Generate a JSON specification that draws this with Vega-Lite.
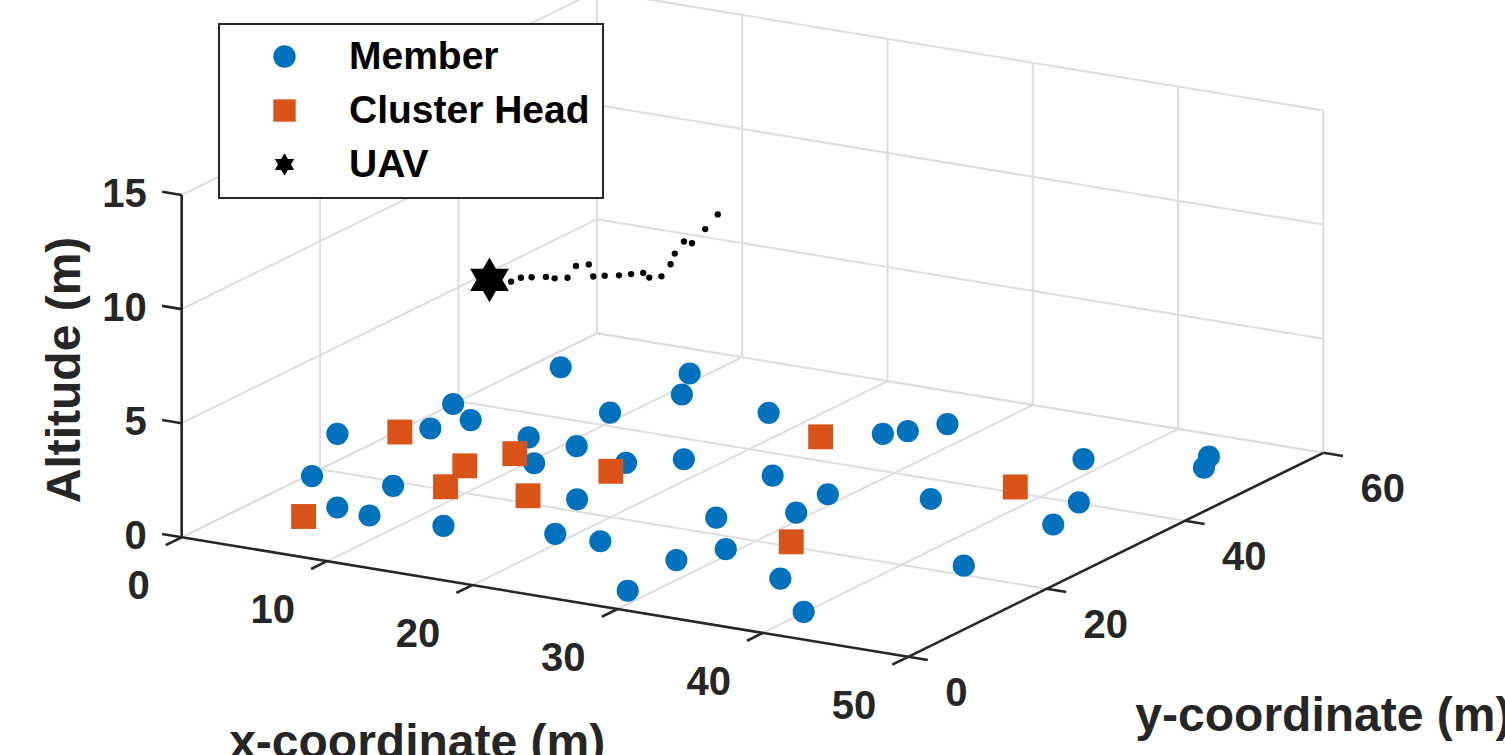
{
  "$schema": "https://vega.github.io/schema/vega-lite/v6.json",
  "width": 1505,
  "height": 755,
  "autosize": "none",
  "padding": 0,
  "background": "white",
  "config": {
    "view": {"stroke": null},
    "legend": {
      "padding": 13,
      "fillColor": "white",
      "strokeColor": "#262626",
      "strokeWidth": 2,
      "labelFont": "Liberation Sans",
      "labelFontSize": 39,
      "labelFontWeight": "bold",
      "labelColor": "#000000",
      "labelLimit": 600,
      "symbolSize": 500,
      "symbolOffset": 33,
      "labelOffset": 45,
      "rowPadding": 14,
      "symbolStrokeWidth": 0
    }
  },
  "datasets": {
    "grid": [
      {"x1": 0, "y1": 0, "z1": 0, "x2": 0, "y2": 60, "z2": 0},
      {"x1": 10, "y1": 0, "z1": 0, "x2": 10, "y2": 60, "z2": 0},
      {"x1": 20, "y1": 0, "z1": 0, "x2": 20, "y2": 60, "z2": 0},
      {"x1": 30, "y1": 0, "z1": 0, "x2": 30, "y2": 60, "z2": 0},
      {"x1": 40, "y1": 0, "z1": 0, "x2": 40, "y2": 60, "z2": 0},
      {"x1": 50, "y1": 0, "z1": 0, "x2": 50, "y2": 60, "z2": 0},
      {"x1": 0, "y1": 0, "z1": 0, "x2": 50, "y2": 0, "z2": 0},
      {"x1": 0, "y1": 20, "z1": 0, "x2": 50, "y2": 20, "z2": 0},
      {"x1": 0, "y1": 40, "z1": 0, "x2": 50, "y2": 40, "z2": 0},
      {"x1": 0, "y1": 60, "z1": 0, "x2": 50, "y2": 60, "z2": 0},
      {"x1": 0, "y1": 0, "z1": 0, "x2": 0, "y2": 0, "z2": 15},
      {"x1": 0, "y1": 20, "z1": 0, "x2": 0, "y2": 20, "z2": 15},
      {"x1": 0, "y1": 40, "z1": 0, "x2": 0, "y2": 40, "z2": 15},
      {"x1": 0, "y1": 60, "z1": 0, "x2": 0, "y2": 60, "z2": 15},
      {"x1": 0, "y1": 0, "z1": 0, "x2": 0, "y2": 60, "z2": 0},
      {"x1": 0, "y1": 0, "z1": 5, "x2": 0, "y2": 60, "z2": 5},
      {"x1": 0, "y1": 0, "z1": 10, "x2": 0, "y2": 60, "z2": 10},
      {"x1": 0, "y1": 0, "z1": 15, "x2": 0, "y2": 60, "z2": 15},
      {"x1": 0, "y1": 60, "z1": 0, "x2": 0, "y2": 60, "z2": 15},
      {"x1": 10, "y1": 60, "z1": 0, "x2": 10, "y2": 60, "z2": 15},
      {"x1": 20, "y1": 60, "z1": 0, "x2": 20, "y2": 60, "z2": 15},
      {"x1": 30, "y1": 60, "z1": 0, "x2": 30, "y2": 60, "z2": 15},
      {"x1": 40, "y1": 60, "z1": 0, "x2": 40, "y2": 60, "z2": 15},
      {"x1": 50, "y1": 60, "z1": 0, "x2": 50, "y2": 60, "z2": 15},
      {"x1": 0, "y1": 60, "z1": 0, "x2": 50, "y2": 60, "z2": 0},
      {"x1": 0, "y1": 60, "z1": 5, "x2": 50, "y2": 60, "z2": 5},
      {"x1": 0, "y1": 60, "z1": 10, "x2": 50, "y2": 60, "z2": 10},
      {"x1": 0, "y1": 60, "z1": 15, "x2": 50, "y2": 60, "z2": 15}
    ],
    "axes": [
      {"x1": 0, "y1": 0, "z1": 0, "x2": 50, "y2": 0, "z2": 0},
      {"x1": 50, "y1": 0, "z1": 0, "x2": 50, "y2": 60, "z2": 0},
      {"x1": 0, "y1": 0, "z1": 0, "x2": 0, "y2": 0, "z2": 15},
      {"x1": 0, "y1": 0, "z1": 0, "x2": 0, "y2": -2.3, "z2": 0},
      {"x1": 10, "y1": 0, "z1": 0, "x2": 10, "y2": -2.3, "z2": 0},
      {"x1": 20, "y1": 0, "z1": 0, "x2": 20, "y2": -2.3, "z2": 0},
      {"x1": 30, "y1": 0, "z1": 0, "x2": 30, "y2": -2.3, "z2": 0},
      {"x1": 40, "y1": 0, "z1": 0, "x2": 40, "y2": -2.3, "z2": 0},
      {"x1": 50, "y1": 0, "z1": 0, "x2": 50, "y2": -2.3, "z2": 0},
      {"x1": 50, "y1": 0, "z1": 0, "x2": 51.35, "y2": 0, "z2": 0},
      {"x1": 50, "y1": 20, "z1": 0, "x2": 51.35, "y2": 20, "z2": 0},
      {"x1": 50, "y1": 40, "z1": 0, "x2": 51.35, "y2": 40, "z2": 0},
      {"x1": 50, "y1": 60, "z1": 0, "x2": 51.35, "y2": 60, "z2": 0},
      {"x1": 0, "y1": 0, "z1": 0, "x2": -1.35, "y2": 0, "z2": 0},
      {"x1": 0, "y1": 0, "z1": 5, "x2": -1.35, "y2": 0, "z2": 5},
      {"x1": 0, "y1": 0, "z1": 10, "x2": -1.35, "y2": 0, "z2": 10},
      {"x1": 0, "y1": 0, "z1": 15, "x2": -1.35, "y2": 0, "z2": 15}
    ],
    "xticks": [
      {"x": 0, "y": 0, "z": 0, "label": "0"},
      {"x": 10, "y": 0, "z": 0, "label": "10"},
      {"x": 20, "y": 0, "z": 0, "label": "20"},
      {"x": 30, "y": 0, "z": 0, "label": "30"},
      {"x": 40, "y": 0, "z": 0, "label": "40"},
      {"x": 50, "y": 0, "z": 0, "label": "50"}
    ],
    "yticks": [
      {"x": 50, "y": 0, "z": 0, "label": "0"},
      {"x": 50, "y": 20, "z": 0, "label": "20"},
      {"x": 50, "y": 40, "z": 0, "label": "40"},
      {"x": 50, "y": 60, "z": 0, "label": "60"}
    ],
    "zticks": [
      {"x": 0, "y": 0, "z": 0, "label": "0"},
      {"x": 0, "y": 0, "z": 5, "label": "5"},
      {"x": 0, "y": 0, "z": 10, "label": "10"},
      {"x": 0, "y": 0, "z": 15, "label": "15"}
    ],
    "titles": [
      {"x": 23.35, "y": -15, "z": -5, "label": "x-coordinate (m)"},
      {"x": 60, "y": 39, "z": -8, "label": "y-coordinate (m)"}
    ],
    "ztitle": [
      {"x": -7, "y": 0, "z": 6.6, "label": "Altitude (m)"}
    ],
    "path": [
      {"t": 1, "x": 14.1, "y": 18.0, "z": 10},
      {"t": 2, "x": 14.2, "y": 19.2, "z": 10},
      {"t": 3, "x": 14.7, "y": 19.7, "z": 10},
      {"t": 4, "x": 15.4, "y": 20.3, "z": 10},
      {"t": 5, "x": 16.0, "y": 20.3, "z": 10},
      {"t": 6, "x": 16.6, "y": 20.9, "z": 10},
      {"t": 7, "x": 15.8, "y": 23.8, "z": 10},
      {"t": 8, "x": 16.3, "y": 24.6, "z": 10},
      {"t": 9, "x": 17.8, "y": 22.1, "z": 10},
      {"t": 10, "x": 18.3, "y": 22.7, "z": 10},
      {"t": 11, "x": 19.0, "y": 23.3, "z": 10},
      {"t": 12, "x": 19.5, "y": 24.0, "z": 10},
      {"t": 13, "x": 20.0, "y": 24.7, "z": 10},
      {"t": 14, "x": 20.8, "y": 23.9, "z": 10},
      {"t": 15, "x": 21.3, "y": 24.6, "z": 10},
      {"t": 16, "x": 20.5, "y": 27.6, "z": 10},
      {"t": 17, "x": 19.6, "y": 30.1, "z": 10},
      {"t": 18, "x": 18.8, "y": 33.1, "z": 10},
      {"t": 19, "x": 19.4, "y": 33.0, "z": 10},
      {"t": 20, "x": 18.6, "y": 36.6, "z": 10},
      {"t": 21, "x": 17.7, "y": 40.3, "z": 10}
    ],
    "nodes": [
      {"type": "Member", "x": 1.7, "y": 51.2, "z": 0},
      {"type": "Member", "x": 1.2, "y": 36.7, "z": 0.5},
      {"type": "Member", "x": 2.6, "y": 36.3, "z": 0},
      {"type": "Member", "x": 1.0, "y": 20.4, "z": 1.6},
      {"type": "Member", "x": 0.3, "y": 18.2, "z": 0},
      {"type": "Member", "x": 1.4, "y": 33.0, "z": 0},
      {"type": "Member", "x": 4.9, "y": 12.2, "z": 0},
      {"type": "Member", "x": 7.4, "y": 11.6, "z": 0},
      {"type": "Member", "x": 5.5, "y": 19.0, "z": 0},
      {"type": "Member", "x": 12.3, "y": 12.0, "z": 0},
      {"type": "Member", "x": 18.9, "y": 14.3, "z": 0},
      {"type": "Member", "x": 16.4, "y": 22.7, "z": 0},
      {"type": "Member", "x": 7.4, "y": 34.6, "z": 0},
      {"type": "Member", "x": 10.4, "y": 29.1, "z": 0},
      {"type": "Member", "x": 10.8, "y": 34.4, "z": 0},
      {"type": "Member", "x": 9.0, "y": 43.0, "z": 0},
      {"type": "Member", "x": 9.0, "y": 54.5, "z": 0},
      {"type": "Member", "x": 10.8, "y": 49.6, "z": 0},
      {"type": "Member", "x": 15.1, "y": 32.5, "z": 0},
      {"type": "Member", "x": 17.7, "y": 35.4, "z": 0},
      {"type": "Member", "x": 17.2, "y": 48.7, "z": 0},
      {"type": "Member", "x": 24.0, "y": 35.0, "z": 0},
      {"type": "Member", "x": 28.8, "y": 32.9, "z": 0},
      {"type": "Member", "x": 29.1, "y": 27.7, "z": 0},
      {"type": "Member", "x": 25.5, "y": 23.7, "z": 0},
      {"type": "Member", "x": 22.0, "y": 14.3, "z": 0},
      {"type": "Member", "x": 29.3, "y": 17.1, "z": 0},
      {"type": "Member", "x": 27.9, "y": 12.9, "z": 0},
      {"type": "Member", "x": 35.2, "y": 12.6, "z": 0},
      {"type": "Member", "x": 28.6, "y": 4.4, "z": 0},
      {"type": "Member", "x": 39.9, "y": 6.1, "z": 0},
      {"type": "Member", "x": 25.3, "y": 48.2, "z": 0},
      {"type": "Member", "x": 26.3, "y": 49.7, "z": 0},
      {"type": "Member", "x": 27.6, "y": 52.7, "z": 0},
      {"type": "Member", "x": 34.6, "y": 35.6, "z": 0},
      {"type": "Member", "x": 43.3, "y": 22.1, "z": 0},
      {"type": "Member", "x": 43.6, "y": 34.4, "z": 0},
      {"type": "Member", "x": 42.6, "y": 40.2, "z": 0},
      {"type": "Member", "x": 38.3, "y": 49.9, "z": 0},
      {"type": "Member", "x": 44.5, "y": 55.0, "z": 0},
      {"type": "Member", "x": 45.4, "y": 52.4, "z": 0},
      {"type": "Member", "x": 7.1, "y": 26.0, "z": 0},
      {"type": "Cluster Head", "x": 4.1, "y": 9.0, "z": 0},
      {"type": "Cluster Head", "x": 0.2, "y": 31.1, "z": 0},
      {"type": "Cluster Head", "x": 7.1, "y": 26.0, "z": 0},
      {"type": "Cluster Head", "x": 8.3, "y": 20.7, "z": 0},
      {"type": "Cluster Head", "x": 8.4, "y": 30.5, "z": 0},
      {"type": "Cluster Head", "x": 13.5, "y": 21.7, "z": 0},
      {"type": "Cluster Head", "x": 15.2, "y": 30.1, "z": 0},
      {"type": "Cluster Head", "x": 22.4, "y": 45.3, "z": 0},
      {"type": "Cluster Head", "x": 31.9, "y": 21.1, "z": 0},
      {"type": "Cluster Head", "x": 37.7, "y": 41.3, "z": 0},
      {"type": "UAV", "x": 12.8, "y": 17.6, "z": 10}
    ]
  },
  "encoding": {
    "x": {"field": "sx", "type": "quantitative", "scale": {"domain": [-181.7, 1323.3], "nice": false, "zero": false}, "axis": null},
    "y": {"field": "sy", "type": "quantitative", "scale": {"domain": [-537.3, 217.7], "nice": false, "zero": false, "reverse": true}, "axis": null}
  },
  "layer": [
    {
      "data": {"name": "grid"},
      "transform": [
        {"calculate": "14.53*datum.x1 + 6.92*datum.y1", "as": "sx"},
        {"calculate": "2.39*datum.x1 - 3.40*datum.y1 - 22.82*datum.z1", "as": "sy"},
        {"calculate": "14.53*datum.x2 + 6.92*datum.y2", "as": "ex"},
        {"calculate": "2.39*datum.x2 - 3.40*datum.y2 - 22.82*datum.z2", "as": "ey"}
      ],
      "mark": {"type": "rule", "color": "#dedede", "strokeWidth": 2},
      "encoding": {"x2": {"field": "ex"}, "y2": {"field": "ey"}}
    },
    {
      "data": {"name": "axes"},
      "transform": [
        {"calculate": "14.53*datum.x1 + 6.92*datum.y1", "as": "sx"},
        {"calculate": "2.39*datum.x1 - 3.40*datum.y1 - 22.82*datum.z1", "as": "sy"},
        {"calculate": "14.53*datum.x2 + 6.92*datum.y2", "as": "ex"},
        {"calculate": "2.39*datum.x2 - 3.40*datum.y2 - 22.82*datum.z2", "as": "ey"}
      ],
      "mark": {"type": "rule", "color": "#262626", "strokeWidth": 2.6},
      "encoding": {"x2": {"field": "ex"}, "y2": {"field": "ey"}}
    },
    {
      "data": {"name": "xticks"},
      "transform": [
        {"calculate": "14.53*datum.x + 6.92*datum.y", "as": "sx"},
        {"calculate": "2.39*datum.x - 3.40*datum.y - 22.82*datum.z", "as": "sy"}
      ],
      "mark": {"type": "text", "align": "right", "baseline": "middle", "dx": -32, "dy": 50, "font": "Liberation Sans", "fontSize": 40, "fontWeight": "bold", "color": "#262626"},
      "encoding": {"text": {"field": "label"}}
    },
    {
      "data": {"name": "yticks"},
      "transform": [
        {"calculate": "14.53*datum.x + 6.92*datum.y", "as": "sx"},
        {"calculate": "2.39*datum.x - 3.40*datum.y - 22.82*datum.z", "as": "sy"}
      ],
      "mark": {"type": "text", "align": "left", "baseline": "middle", "dx": 37, "dy": 37, "font": "Liberation Sans", "fontSize": 40, "fontWeight": "bold", "color": "#262626"},
      "encoding": {"text": {"field": "label"}}
    },
    {
      "data": {"name": "zticks"},
      "transform": [
        {"calculate": "14.53*datum.x + 6.92*datum.y", "as": "sx"},
        {"calculate": "2.39*datum.x - 3.40*datum.y - 22.82*datum.z", "as": "sy"}
      ],
      "mark": {"type": "text", "align": "right", "baseline": "middle", "dx": -35, "dy": 0, "font": "Liberation Sans", "fontSize": 40, "fontWeight": "bold", "color": "#262626"},
      "encoding": {"text": {"field": "label"}}
    },
    {
      "data": {"name": "titles"},
      "transform": [
        {"calculate": "14.53*datum.x + 6.92*datum.y", "as": "sx"},
        {"calculate": "2.39*datum.x - 3.40*datum.y - 22.82*datum.z", "as": "sy"}
      ],
      "mark": {"type": "text", "align": "center", "baseline": "alphabetic", "font": "Liberation Sans", "fontSize": 48, "fontWeight": "bold", "color": "#262626"},
      "encoding": {"text": {"field": "label"}}
    },
    {
      "data": {"name": "ztitle"},
      "transform": [
        {"calculate": "14.53*datum.x + 6.92*datum.y", "as": "sx"},
        {"calculate": "2.39*datum.x - 3.40*datum.y - 22.82*datum.z", "as": "sy"}
      ],
      "mark": {"type": "text", "align": "center", "baseline": "alphabetic", "angle": 270, "font": "Liberation Sans", "fontSize": 48, "fontWeight": "bold", "color": "#262626"},
      "encoding": {"text": {"field": "label"}}
    },
    {
      "data": {"name": "path"},
      "transform": [
        {"calculate": "14.53*datum.x + 6.92*datum.y", "as": "sx"},
        {"calculate": "2.39*datum.x - 3.40*datum.y - 22.82*datum.z", "as": "sy"}
      ],
      "mark": {"type": "point", "filled": true, "color": "#000000", "size": 40, "opacity": 1, "strokeWidth": 0}
    },
    {
      "data": {"name": "nodes"},
      "transform": [
        {"calculate": "14.53*datum.x + 6.92*datum.y", "as": "sx"},
        {"calculate": "2.39*datum.x - 3.40*datum.y - 22.82*datum.z", "as": "sy"}
      ],
      "mark": {"type": "point", "filled": true, "opacity": 1, "strokeWidth": 0},
      "encoding": {
        "color": {
          "field": "type", "type": "nominal",
          "scale": {"domain": ["Member", "Cluster Head", "UAV"], "range": ["#0072BD", "#D95319", "#000000"]},
          "legend": {"title": null, "orient": "none", "legendX": 219, "legendY": 24}
        },
        "shape": {
          "field": "type", "type": "nominal",
          "scale": {"domain": ["Member", "Cluster Head", "UAV"], "range": ["circle", "square", "M0,-1L0.866,0.5L-0.866,0.5Z M0,1L-0.866,-0.5L0.866,-0.5Z"]},
          "legend": {"title": null, "orient": "none", "legendX": 219, "legendY": 24}
        },
        "size": {
          "condition": [
            {"test": "datum.type === 'UAV'", "value": 2000},
            {"test": "datum.type === 'Cluster Head'", "value": 620}
          ],
          "value": 490
        }
      }
    }
  ]
}
